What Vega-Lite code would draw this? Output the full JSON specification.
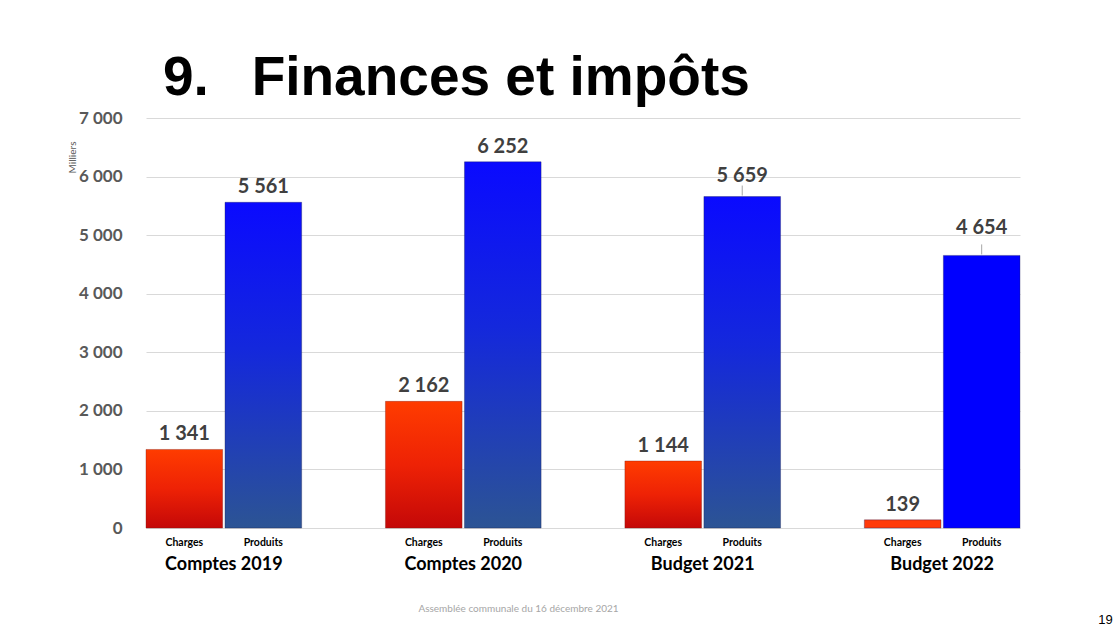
{
  "$schema": "https://vega.github.io/schema/vega-lite/v6.json",
  "width": 874,
  "height": 410,
  "autosize": {"type": "none"},
  "padding": {"left": 146, "top": 118, "right": 100, "bottom": 107},
  "background": "white",
  "title": {
    "text": "9.\u2002\u00a0Finances et impôts",
    "font": "Liberation Sans",
    "fontSize": 55,
    "fontWeight": "bold",
    "color": "#000000",
    "anchor": "start",
    "frame": "group",
    "dx": 17,
    "offset": 2
  },
  "config": {
    "view": {"stroke": null},
    "locale": {
      "number": {"decimal": ",", "thousands": " ", "grouping": [3], "currency": ["", ""]}
    },
    "font": "Lato"
  },
  "data": {
    "values": [
      {"group": "Comptes 2019", "type": "Charges", "value": 1341},
      {"group": "Comptes 2019", "type": "Produits", "value": 5561},
      {"group": "Comptes 2020", "type": "Charges", "value": 2162},
      {"group": "Comptes 2020", "type": "Produits", "value": 6252},
      {"group": "Budget 2021", "type": "Charges", "value": 1144},
      {"group": "Budget 2021", "type": "Produits", "value": 5659},
      {"group": "Budget 2022", "type": "Charges", "value": 139},
      {"group": "Budget 2022", "type": "Produits", "value": 4654}
    ]
  },
  "encoding": {
    "x": {
      "field": "group",
      "type": "nominal",
      "sort": ["Comptes 2019", "Comptes 2020", "Budget 2021", "Budget 2022"],
      "scale": {"paddingInner": 0.35, "paddingOuter": 0},
      "axis": {
        "title": "Assemblée communale du 16 décembre 2021",
        "titleFont": "Lato",
        "titleFontSize": 10,
        "titleFontWeight": "normal",
        "titleColor": "#a6a6a6",
        "titleX": 372,
        "titleY": 80,
        "titleBaseline": "middle",
        "titleAlign": "center",
        "labelAngle": 0,
        "labelFont": "Lato",
        "labelFontSize": 18,
        "labelFontWeight": "bold",
        "labelColor": "#000000",
        "labelPadding": 27,
        "ticks": false,
        "domainColor": "#d9d9d9",
        "domainWidth": 1
      }
    },
    "xOffset": {
      "field": "type",
      "type": "nominal",
      "sort": ["Charges", "Produits"],
      "scale": {"paddingInner": 0.03, "paddingOuter": 0}
    },
    "y": {
      "field": "value",
      "type": "quantitative",
      "scale": {"domain": [0, 7000], "nice": false},
      "axis": null
    }
  },
  "layer": [
    {
      "transform": [{"filter": "datum.group != 'Budget 2022' && datum.type == 'Charges'"}],
      "mark": {
        "type": "bar",
        "stroke": "#7a1a10",
        "strokeWidth": 0.6,
        "strokeOpacity": 0.6,
        "color": {
          "gradient": "linear", "x1": 0, "y1": 0, "x2": 0, "y2": 1,
          "stops": [
            {"offset": 0, "color": "#ff3c00"},
            {"offset": 0.5, "color": "#ee2205"},
            {"offset": 1, "color": "#c40808"}
          ]
        }
      },
      "encoding": {
        "y": {
          "field": "value",
          "type": "quantitative",
          "scale": {"domain": [0, 7000], "nice": false},
          "axis": {
            "orient": "left",
            "values": [0, 1000, 2000, 3000, 4000, 5000, 6000, 7000],
            "format": ",.0f",
            "title": "Milliers",
            "titleFont": "Lato",
            "titleFontSize": 10,
            "titleFontWeight": "normal",
            "titleColor": "#595959",
            "titleAngle": 270,
            "titleAlign": "center",
            "titleBaseline": "middle",
            "titleX": -74,
            "titleY": 39,
            "labelFont": "Lato",
            "labelFontSize": 17,
            "labelFontWeight": "bold",
            "labelColor": "#595959",
            "labelPadding": 24,
            "ticks": false,
            "domain": false,
            "grid": true,
            "gridColor": "#d9d9d9",
            "gridWidth": 1
          }
        }
      }
    },
    {
      "transform": [{"filter": "datum.group != 'Budget 2022' && datum.type == 'Produits'"}],
      "mark": {
        "type": "bar",
        "stroke": "#1a2050",
        "strokeWidth": 0.6,
        "strokeOpacity": 0.6,
        "color": {
          "gradient": "linear", "x1": 0, "y1": 0, "x2": 0, "y2": 1,
          "stops": [
            {"offset": 0, "color": "#0a0aff"},
            {"offset": 0.45, "color": "#1428dc"},
            {"offset": 1, "color": "#2c5494"}
          ]
        }
      }
    },
    {
      "transform": [{"filter": "datum.group == 'Budget 2022'"}],
      "mark": {"type": "bar", "stroke": "#202060", "strokeWidth": 0.6, "strokeOpacity": 0.6},
      "encoding": {
        "color": {
          "field": "type",
          "type": "nominal",
          "scale": {"domain": ["Charges", "Produits"], "range": ["#ff3a0a", "#0000ff"]},
          "legend": null
        }
      }
    },
    {
      "transform": [{"filter": "!(datum.type == 'Produits' && (datum.group == 'Budget 2021' || datum.group == 'Budget 2022'))"}],
      "mark": {"type": "text", "baseline": "alphabetic", "dy": -9, "font": "Lato", "fontSize": 20, "fontWeight": "bold", "color": "#404040"},
      "encoding": {"text": {"field": "value", "type": "quantitative", "format": ",.0f"}}
    },
    {
      "transform": [{"filter": "datum.type == 'Produits' && datum.group == 'Budget 2021'"}],
      "mark": {"type": "text", "baseline": "alphabetic", "dy": -15, "font": "Lato", "fontSize": 20, "fontWeight": "bold", "color": "#404040"},
      "encoding": {"text": {"field": "value", "type": "quantitative", "format": ",.0f"}}
    },
    {
      "transform": [{"filter": "datum.type == 'Produits' && datum.group == 'Budget 2022'"}],
      "mark": {"type": "text", "baseline": "alphabetic", "dy": -21, "font": "Lato", "fontSize": 20, "fontWeight": "bold", "color": "#404040"},
      "encoding": {"text": {"field": "value", "type": "quantitative", "format": ",.0f"}}
    },
    {
      "transform": [{"filter": "datum.type == 'Produits' && (datum.group == 'Budget 2021' || datum.group == 'Budget 2022')"}],
      "mark": {"type": "rule", "color": "#a6a6a6", "strokeWidth": 1, "yOffset": -1, "y2Offset": -11},
      "encoding": {"y2": {"field": "value"}}
    },
    {
      "mark": {"type": "text", "baseline": "middle", "dy": 15, "font": "Lato", "fontSize": 10.5, "fontWeight": "bold", "color": "#000000"},
      "encoding": {
        "y": {"datum": 0, "type": "quantitative", "scale": {"domain": [0, 7000], "nice": false}, "axis": null},
        "text": {"field": "type"}
      }
    },
    {
      "mark": {"type": "point", "opacity": 0},
      "encoding": {
        "y": {
          "field": "value",
          "type": "quantitative",
          "scale": {"domain": [0, 7000], "nice": false},
          "axis": {
            "orient": "right",
            "title": "19",
            "titleFont": "Liberation Sans",
            "titleFontSize": 13,
            "titleFontWeight": "normal",
            "titleColor": "#000000",
            "titleAngle": 0,
            "titleAlign": "center",
            "titleBaseline": "middle",
            "titleX": 85,
            "titleY": 501,
            "labels": false,
            "ticks": false,
            "domain": false,
            "grid": false
          }
        }
      }
    }
  ],
  "resolve": {"axis": {"y": "independent"}}
}
